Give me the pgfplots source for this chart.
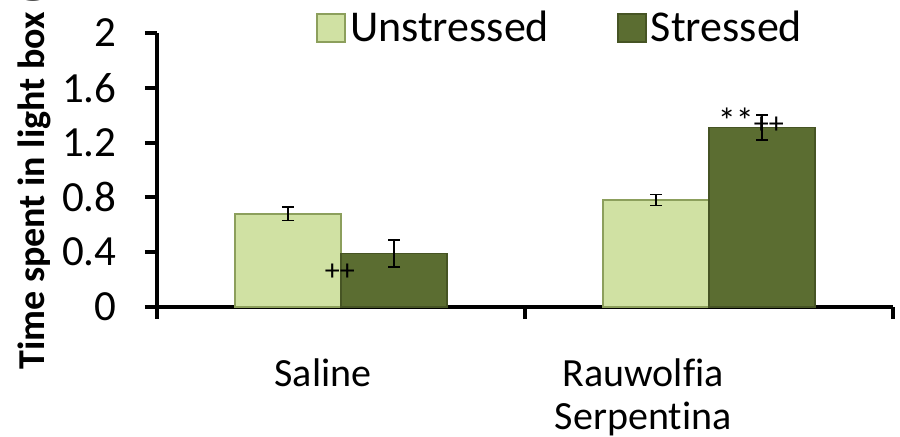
\documentclass[border=0pt]{standalone}
\usepackage{fontspec}
\setmainfont{Carlito}[Ligatures={NoCommon}]
\usepackage{pgfplots}
\pgfplotsset{compat=1.18}
\definecolor{unst}{HTML}{D0E1A3}
\definecolor{unstE}{HTML}{8C9F5C}
\definecolor{strc}{HTML}{5B6D31}
\definecolor{strE}{HTML}{465424}
\begin{document}
\begin{tikzpicture}
\begin{axis}[
  at={(0,0)}, anchor=south west,
  scale only axis, width=368pt, height=137pt,
  xmin=0.5, xmax=2.5, ymin=0, ymax=2,
  axis x line*=bottom, axis y line*=left,
  axis line style={-, line width=2pt, black},
  ytick={0,0.4,0.8,1.2,1.6,2},
  yticklabels={0,0.4,0.8,1.2,1.6,2},
  xtick={0.5,1.5,2.5}, xticklabels={},
  extra x ticks={0.951,1.821},
  extra x tick labels={Saline,Rauwolfia\\Serpentina},
  extra x tick style={major tick length=0pt, xticklabel style={align=center, yshift=-22.5pt}},
  tick align=outside, major tick length=6pt,
  tick style={line width=2pt, black},
  yticklabel style={font=\fontsize{21.5}{24}\selectfont, inner sep=0pt, xshift=-14pt},
  xticklabel style={font=\fontsize{20}{21.5}\selectfont},
  /pgf/number format/assume math mode=true,
  ybar=0pt, bar width=53pt,
  legend columns=2,
  legend style={at={(0.549,1.018)}, anchor=center, draw=none, fill=none,
    font=\fontsize{22}{26}\selectfont,
    /tikz/every even column/.append style={column sep=32pt}},
  legend image code/.code={\draw[#1, line width=1pt] (0pt,-7pt) rectangle (14pt,7pt);},
  clip=false,
]
\addplot[fill=unst, draw=unstE, line width=0.8pt,
  error bars/.cd, y dir=both, y explicit,
  error bar style={black, line width=0.8pt},
  error mark options={rotate=90, mark size=3pt, line width=0.8pt, black}]
  coordinates {(1,0.68) +- (0,0.05) (2,0.78) +- (0,0.04)};
\addplot[fill=strc, draw=strE, line width=0.8pt,
  error bars/.cd, y dir=both, y explicit,
  error bar style={black, line width=0.8pt},
  error mark options={rotate=90, mark size=3pt, line width=0.8pt, black}]
  coordinates {(1,0.39) +- (0,0.10) (2,1.31) +- (0,0.09)};
\legend{Unstressed,Stressed}
\node[font=\fontsize{15}{16}\selectfont, inner sep=0pt] at (axis cs:0.997,0.255) {++};
\node[font=\fontsize{15}{16}\selectfont, inner sep=0pt] at (axis cs:2.114,1.36) {{\fontsize{18}{18}\selectfont **}++};
\end{axis}
\node[rotate=90, anchor=base west, inner sep=0pt, font=\bfseries\fontsize{19}{20}\selectfont] at (-56.5pt,-31.5pt) {Time spent in light box (s)};
\pgfresetboundingbox
\useasboundingbox (-78.5pt,-65pt) rectangle (371.5pt,153.5pt);
\end{tikzpicture}
\end{document}
